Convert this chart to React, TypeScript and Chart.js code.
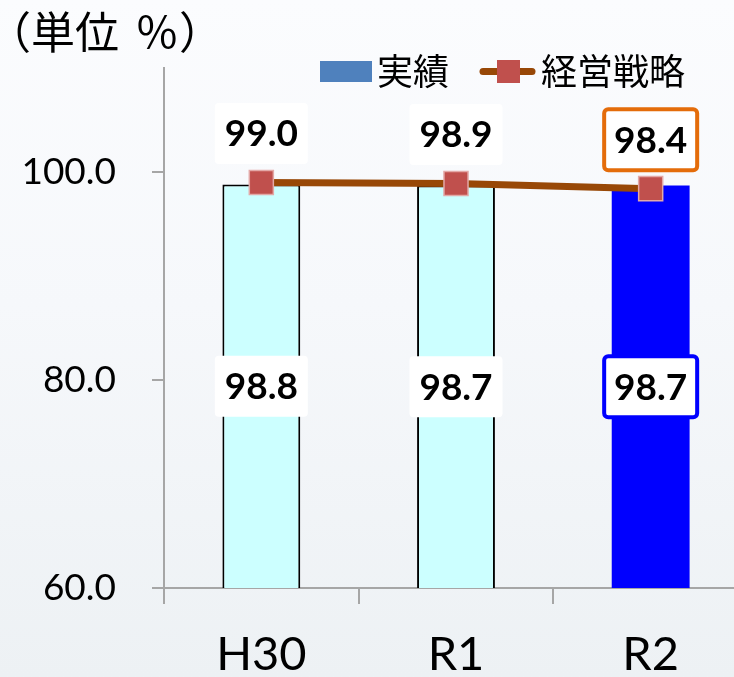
import React, { useEffect, useRef } from "react";
import { Chart, registerables } from "chart.js";

Chart.register(...registerables);

const categories = ["H30", "R1", "R2"];
const actualValues = [98.8, 98.7, 98.7];
const planValues = [99.0, 98.9, 98.4];
const yTickValues = [60, 80, 100];
const seriesNames = ["実績", "経営戦略"];
const titleParts = ["（単位", "％）"];

const AXIS_COLOR = "#A6A6A6";
const LINE_COLOR = "#984807";
const MARKER_COLOR = "#C0504D";
const LEGEND_BAR_COLOR = "#4F81BD";
const barFill = ["#CCFFFF", "#CCFFFF", "#0000FF"];
const barBorder = ["#000000", "#000000", "#0000FF"];
const barBorderWidth = [2, 2, 0];
const barLabelBorders: (string | null)[] = [null, null, "#0000FF"];
const lineLabelBorders: (string | null)[] = [null, null, "#E46C0A"];

function drawBox(ctx: CanvasRenderingContext2D, x: number, y: number, text: string, border: string | null) {
  const w = 93;
  const h = 61;
  ctx.beginPath();
  ctx.roundRect(x - w / 2, y - h / 2, w, h, 4);
  ctx.fillStyle = "#FFFFFF";
  ctx.fill();
  if (border) {
    ctx.lineWidth = 4;
    ctx.strokeStyle = border;
    ctx.stroke();
  }
  ctx.fillStyle = "#000000";
  ctx.fillText(text, x, y + 1);
}

const valueLabelPlugin = {
  id: "valueLabels",
  afterDatasetsDraw(chart: any) {
    const ctx = chart.ctx as CanvasRenderingContext2D;
    const bottom = chart.chartArea.bottom;
    ctx.save();
    ctx.font = "bold 37px Lato";
    ctx.textAlign = "center";
    ctx.textBaseline = "middle";
    const barMeta = chart.getDatasetMeta(0);
    barMeta.data.forEach((el: any, i: number) => {
      const p = el.getProps(["x", "y", "base"], true);
      const base = Math.min(p.base, bottom);
      drawBox(ctx, p.x, (p.y + base) / 2, actualValues[i].toFixed(1), barLabelBorders[i]);
    });
    const lineMeta = chart.getDatasetMeta(1);
    lineMeta.data.forEach((el: any, i: number) => {
      drawBox(ctx, el.x, el.y - 49, planValues[i].toFixed(1), lineLabelBorders[i]);
    });
    ctx.restore();
  },
};

const headerPlugin = {
  id: "header",
  afterDraw(chart: any) {
    const ctx = chart.ctx as CanvasRenderingContext2D;
    ctx.save();
    ctx.fillStyle = "#000000";
    ctx.textBaseline = "middle";
    ctx.textAlign = "left";
    ctx.font = "44px 'Noto Sans CJK JP'";
    ctx.fillText(titleParts[0], -13, 32);
    ctx.fillText(titleParts[1], 135, 32);

    // legend
    ctx.font = "36px 'Noto Sans CJK JP'";
    ctx.fillStyle = LEGEND_BAR_COLOR;
    ctx.fillRect(320, 61, 52, 21);
    ctx.fillStyle = "#000000";
    ctx.fillText(chart.data.datasets[0].label, 377, 71);

    ctx.beginPath();
    ctx.moveTo(483, 71.5);
    ctx.lineTo(532, 71.5);
    ctx.lineWidth = 7;
    ctx.lineCap = "round";
    ctx.strokeStyle = LINE_COLOR;
    ctx.stroke();
    ctx.fillStyle = MARKER_COLOR;
    ctx.fillRect(497, 60, 23, 23);
    ctx.fillStyle = "#000000";
    ctx.fillText(chart.data.datasets[1].label, 541, 71);
    ctx.restore();
  },
};

export default function App() {
  const ref = useRef<HTMLCanvasElement | null>(null);

  useEffect(() => {
    if (!ref.current) return;
    const chart = new Chart(ref.current, {
      type: "bar",
      data: {
        labels: categories,
        datasets: [
          {
            type: "bar",
            label: seriesNames[0],
            data: actualValues,
            backgroundColor: barFill,
            borderColor: barBorder,
            borderWidth: barBorderWidth,
            barPercentage: 0.4,
            categoryPercentage: 1,
            order: 2,
          } as any,
          {
            type: "line",
            label: seriesNames[1],
            data: planValues,
            borderColor: LINE_COLOR,
            borderWidth: 7,
            pointStyle: "rect",
            pointRadius: 17,
            pointHoverRadius: 17,
            pointBackgroundColor: MARKER_COLOR,
            pointBorderColor: "#E3A9A7",
            pointBorderWidth: 1.5,
            tension: 0,
            order: 1,
          } as any,
        ],
      },
      options: {
        responsive: false,
        animation: false,
        devicePixelRatio: 1,
        layout: { autoPadding: false, padding: { top: 68, left: 0, right: 0, bottom: 0 } },
        plugins: {
          legend: { display: false },
          title: { display: false },
          tooltip: { enabled: false },
        },
        scales: {
          x: {
            afterFit: (s: any) => {
              s.height = 89;
              s.paddingLeft = 0;
              s.paddingRight = 0;
            },
            ticks: {
              font: { family: "Lato", size: 47 },
              color: "#000000",
              padding: 23,
            },
            grid: {
              drawOnChartArea: false,
              drawTicks: true,
              tickLength: 16,
              color: AXIS_COLOR,
              lineWidth: 2,
              offset: true,
            },
            border: { display: true, color: AXIS_COLOR, width: 2 },
          },
          y: {
            min: 60,
            max: 110,
            afterBuildTicks: (s: any) => {
              s.ticks = yTickValues.map((v) => ({ value: v }));
            },
            afterFit: (s: any) => {
              s.width = 164;
              s.paddingTop = 0;
              s.paddingBottom = 0;
            },
            ticks: {
              font: { family: "Lato", size: 37 },
              color: "#000000",
              padding: 36,
              callback: (v: any) => Number(v).toFixed(1),
            },
            grid: {
              drawOnChartArea: false,
              drawTicks: true,
              tickLength: 12,
              color: AXIS_COLOR,
              lineWidth: 2,
            },
            border: { display: true, color: AXIS_COLOR, width: 2 },
          },
        },
      },
      plugins: [valueLabelPlugin, headerPlugin],
    });
    return () => chart.destroy();
  }, []);

  return (
    <div
      style={{
        position: "fixed",
        left: 0,
        top: 0,
        width: 734,
        height: 677,
        overflow: "hidden",
        background: "linear-gradient(180deg, #FBFCFE 0%, #F6F8FB 45%, #EDF1F4 100%)",
      }}
    >
      <canvas ref={ref} width={748} height={677} style={{ display: "block", width: 748, height: 677 }} />
    </div>
  );
}
